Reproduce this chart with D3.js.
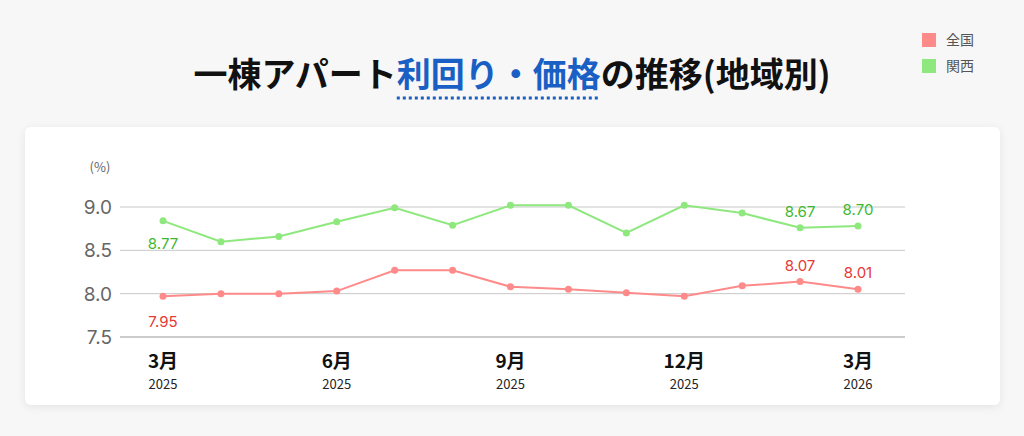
<!DOCTYPE html><html><head><meta charset="utf-8">
<script src="https://cdn.jsdelivr.net/npm/d3@7"></script>
<style>body{margin:0;background:#f7f7f7;font-family:"Noto Sans CJK JP","Noto Sans",sans-serif}</style></head><body>
<svg id="c" width="1024" height="436"></svg>
<script>
const months=["3月","4月","5月","6月","7月","8月","9月","10月","11月","12月","1月","2月","3月"];
const years=["2025","2025","2025","2025","2025","2025","2025","2025","2025","2025","2026","2026","2026"];
const tickIdx=[0,3,6,9,12];
const national=[7.97,8.00,8.00,8.03,8.27,8.27,8.08,8.05,8.01,7.97,8.09,8.14,8.05];
const kansai=[8.84,8.60,8.66,8.83,8.99,8.79,9.02,9.02,8.70,9.02,8.93,8.76,8.78];
const nationalLabels={0:"7.95",11:"8.07",12:"8.01"};
const kansaiLabels={0:"8.77",11:"8.67",12:"8.70"};
const yTicks=[7.5,8.0,8.5,9.0];
const svg=d3.select("#c");
const defs=svg.append("defs");
const f=defs.append("filter").attr("id","sh").attr("x","-5%").attr("y","-10%").attr("width","110%").attr("height","130%");
f.append("feDropShadow").attr("dx",0).attr("dy",2).attr("stdDeviation",4).attr("flood-color","#000").attr("flood-opacity",0.08);
svg.append("rect").attr("x",25).attr("y",127).attr("width",975).attr("height",278).attr("rx",6).attr("fill","#fff").attr("filter","url(#sh)");
// title
const t=svg.append("text").attr("x",512).attr("y",87).attr("text-anchor","middle").attr("font-size",34).attr("font-weight",700).attr("fill","#111");
t.append("tspan").text("一棟アパート");
t.append("tspan").attr("fill","#1a5fc4").text("利回り・価格");
t.append("tspan").text("の推移(地域別)");
const tn=t.node();
const s0=tn.getStartPositionOfChar(6).x, e0=tn.getEndPositionOfChar(11).x;
svg.append("line").attr("x1",s0).attr("x2",e0).attr("y1",98).attr("y2",98).attr("stroke","#1a5fc4").attr("stroke-width",3).attr("stroke-dasharray","3,3");
// legend
[["全国","#ff8a8a"],["関西","#8ee87e"]].forEach((d,i)=>{
 svg.append("rect").attr("x",922).attr("y",33+i*26).attr("width",14).attr("height",14).attr("fill",d[1]);
 svg.append("text").attr("x",946).attr("y",45+i*26).attr("font-size",14).attr("fill","#555").text(d[0]);
});
const x=d3.scalePoint().domain(d3.range(13)).range([163,858]);
const y=d3.scaleLinear().domain([7.5,9.0]).range([337,207]);
const g=svg.append("g");
yTicks.forEach(v=>{
 g.append("line").attr("x1",120).attr("x2",905).attr("y1",y(v)).attr("y2",y(v)).attr("stroke",v==7.5?"#999":"#c8c8c8").attr("stroke-width",1);
 g.append("text").attr("x",112).attr("y",y(v)+7).attr("text-anchor","end").attr("font-size",19).attr("fill","#666").attr("font-family","Inter,sans-serif").text(v.toFixed(1));
});
g.append("text").attr("x",100).attr("y",172).attr("font-size",13).attr("fill","#666").attr("text-anchor","middle").text("(%)");
tickIdx.forEach(i=>{
 g.append("text").attr("x",x(i)).attr("y",368).attr("text-anchor","middle").attr("font-size",19).attr("font-weight",700).attr("fill","#111").text(months[i]);
 g.append("text").attr("x",x(i)).attr("y",389).attr("text-anchor","middle").attr("font-size",13).attr("fill","#222").text(years[i]);
});
function series(data,col,lab,tcol,dy){
 g.append("path").datum(data).attr("fill","none").attr("stroke",col).attr("stroke-width",2).attr("d",d3.line().x((d,i)=>x(i)).y(d=>y(d)));
 g.selectAll(null).data(data).enter().append("circle").attr("cx",(d,i)=>x(i)).attr("cy",d=>y(d)).attr("r",3.5).attr("fill",col);
 Object.entries(lab).forEach(([i,s])=>{
  const dd=(+i===0)?dy[0]:dy[1];
  g.append("text").attr("x",x(+i)).attr("y",y(data[+i])+dd).attr("text-anchor","middle").attr("font-size",15).attr("fill",tcol).attr("font-family","Inter,sans-serif").text(s);
 });
}
series(kansai,"#8ee87e",kansaiLabels,"#3fb82e",[28,-11]);
series(national,"#ff8a8a",nationalLabels,"#e53935",[31,-11]);
</script></body></html>
